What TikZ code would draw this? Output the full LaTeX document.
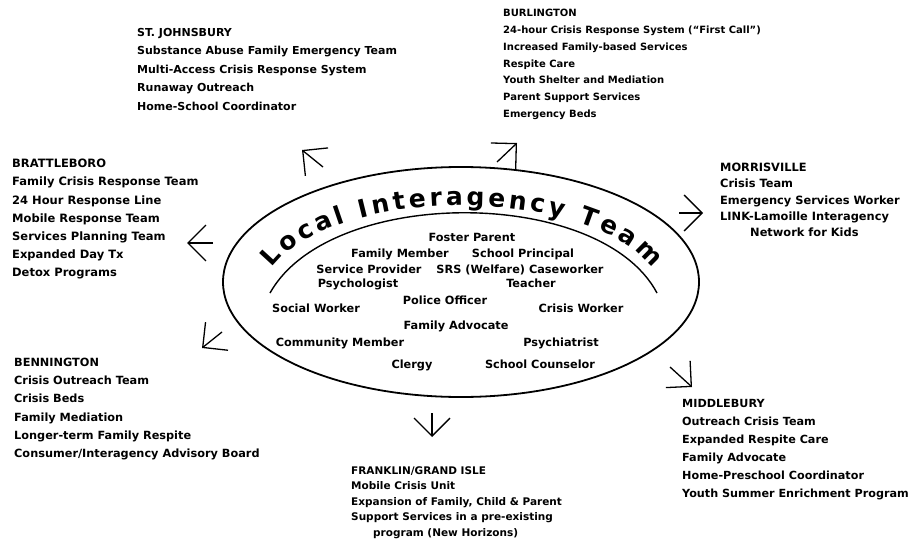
\documentclass[tikz,border=0pt]{standalone}
\usepackage{fontspec}
\setmainfont{DejaVu Sans}
\usetikzlibrary{arrows.meta,decorations.text}
\newcommand{\blockfont}[2]{\bfseries\fontsize{#1}{#2}\selectfont}
\newcommand{\titlefont}{\bfseries\fontsize{25}{25}\selectfont}
\tikzset{every picture/.style={x=1pt,y=-1pt}}
\tikzset{site/.style={anchor=north west,inner sep=0pt,align=left}}
\tikzset{member/.style={anchor=base,inner sep=0pt,font=\blockfont{11.3}{14}}}
\tikzset{edge/.style={line width=1.3pt,-{Straight Barb[length=18pt,width=36pt]}}}

\begin{document}
\begin{tikzpicture}
\useasboundingbox (0,0) rectangle (912,551);

\draw [line width=1.8pt] (461,282) ellipse [x radius=238pt, y radius=115pt];
\draw [line width=1.4pt] (270,293) .. controls (330,186) and (600,186) .. (657,293);
\path [decorate,decoration={text along path,text align={fit to path},
  text={|\titlefont|Local Interagency Team}}]
  (272,268) .. controls (335,185) and (590,185) .. (652,268);

\node [member] (m1) at (472,241) {Foster Parent};
\node [member] (m2) at (400,257) {Family Member};
\node [member] (m3) at (523,257) {School Principal};
\node [member] (m4) at (369,273) {Service Provider};
\node [member] (m5) at (520,273) {SRS (Welfare) Caseworker};
\node [member] (m6) at (358,287) {Psychologist};
\node [member] (m7) at (531,287) {Teacher};
\node [member] (m8) at (445,304) {Police Officer};
\node [member] (m9) at (316,312) {Social Worker};
\node [member] (m10) at (581,312) {Crisis Worker};
\node [member] (m11) at (456,329) {Family Advocate};
\node [member] (m12) at (340,346) {Community Member};
\node [member] (m13) at (561,346) {Psychiatrist};
\node [member] (m14) at (412,368) {Clergy};
\node [member] (m15) at (540,368) {School Counselor};

\node [site,font=\blockfont{11}{18.5}] (sj) at (137,28) {ST. JOHNSBURY\\
  Substance Abuse Family Emergency Team\\Multi-Access Crisis Response System\\
  Runaway Outreach\\Home-School Coordinator};
\node [site,font=\blockfont{10}{16.8}] (bu) at (503,9) {BURLINGTON\\
  24-hour Crisis Response System (``First Call'')\\Increased Family-based Services\\
  Respite Care\\Youth Shelter and Mediation\\Parent Support Services\\Emergency Beds};
\node [site,font=\blockfont{11.5}{18.2}] (br) at (12,159) {BRATTLEBORO\\
  Family Crisis Response Team\\24 Hour Response Line\\Mobile Response Team\\
  Services Planning Team\\Expanded Day Tx\\Detox Programs};
\node [site,font=\blockfont{11.4}{16.3}] (mo) at (720,163) {MORRISVILLE\\
  Crisis Team\\Emergency Services Worker\\LINK-Lamoille Interagency\\
  \hspace*{30pt}Network for Kids};
\node [site,font=\blockfont{11.3}{18.2}] (be) at (14,358) {BENNINGTON\\
  Crisis Outreach Team\\Crisis Beds\\Family Mediation\\Longer-term Family Respite\\
  Consumer/Interagency Advisory Board};
\node [site,font=\blockfont{11.2}{18}] (mi) at (682,399) {MIDDLEBURY\\
  Outreach Crisis Team\\Expanded Respite Care\\Family Advocate\\
  Home-Preschool Coordinator\\Youth Summer Enrichment Program};
\node [site,font=\blockfont{10.5}{15.5}] (fr) at (351,466) {FRANKLIN/GRAND ISLE\\
  Mobile Crisis Unit\\Expansion of Family, Child \& Parent\\
  Support Services in a pre-existing\\\hspace*{22pt}program (New Horizons)};

\coordinate (t1) at (323,167); \coordinate (h1) at (302,150);
\coordinate (t2) at (497,162); \coordinate (h2) at (517,143);
\coordinate (t3) at (679,213); \coordinate (h3) at (703,213);
\coordinate (t4) at (213,243); \coordinate (h4) at (187,243);
\coordinate (t5) at (222,332); \coordinate (h5) at (202,348);
\coordinate (t6) at (670,367); \coordinate (h6) at (692,387);
\coordinate (t7) at (432,413); \coordinate (h7) at (432,437);
\foreach \i in {1,...,7}
  \draw [edge] (t\i) -- (h\i);
\end{tikzpicture}
\end{document}
